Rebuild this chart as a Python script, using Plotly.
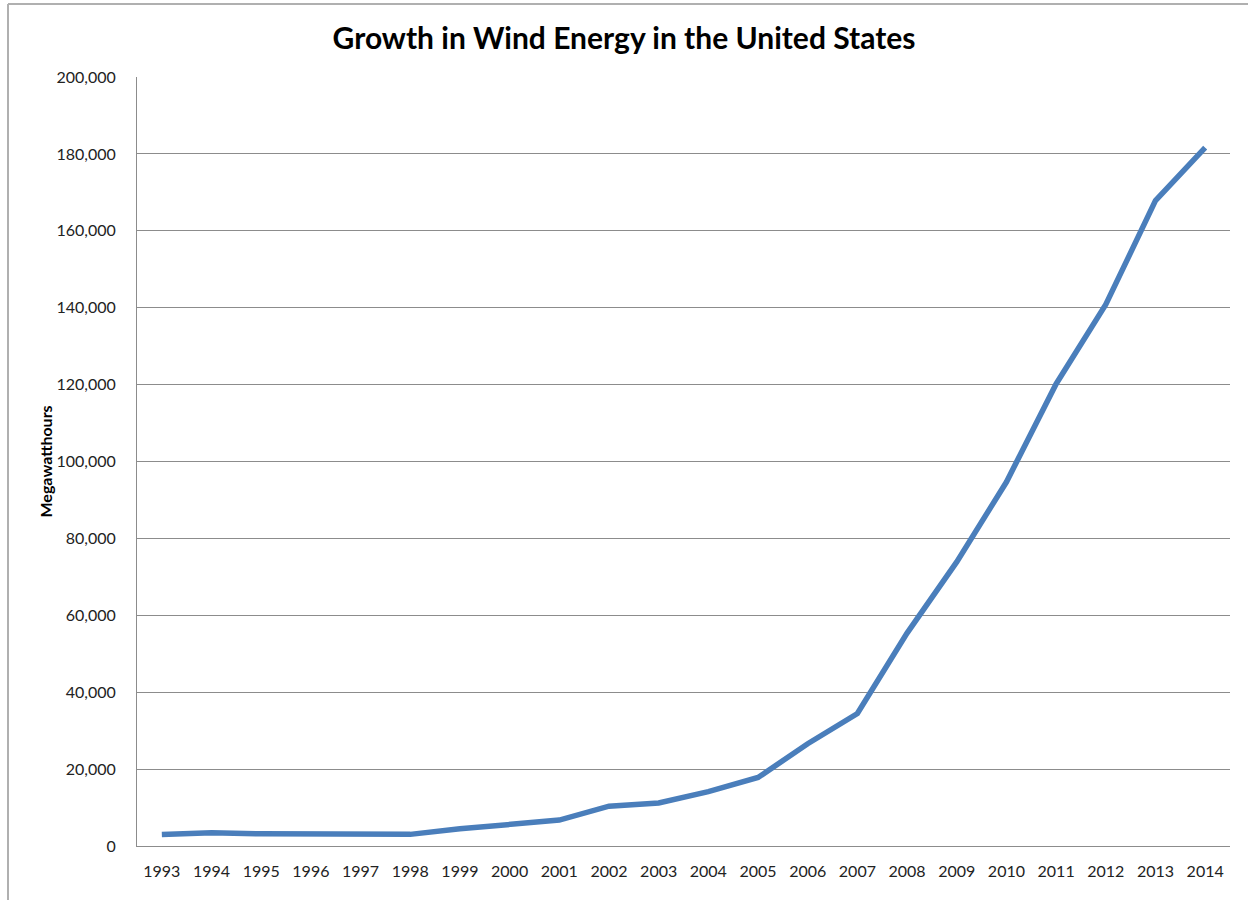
import plotly.graph_objects as go

# Annual US wind generation, thousand megawatthours
years = [str(y) for y in range(1993, 2015)]
generation = [3006, 3447, 3164, 3234, 3288, 3026, 4488, 5593, 6737, 10354,
              11187, 14144, 17811, 26589, 34450, 55363, 73886, 94652,
              120177, 140822, 167840, 181655]
y_ticks = list(range(0, 200001, 20000))
y_tick_text = [f"{v:,}" for v in y_ticks]

W, H = 1248, 900
L, R, T, B = 137, 18, 77, 54
pw, ph = W - L - R, H - T - B

fig = go.Figure()
fig.add_trace(go.Scatter(
    x=years, y=generation, mode="lines",
    line=dict(color="#4a7ebb", width=5.5),
    hoverinfo="x+y", showlegend=False,
))

font_family = "Lato, 'Open Sans', sans-serif"

fig.update_layout(
    width=W, height=H,
    margin=dict(l=L, r=R, t=T, b=B),
    paper_bgcolor="white", plot_bgcolor="white",
    font=dict(family=font_family, color="#222222"),
    title=dict(
        text="<b>Growth in Wind Energy in the United States</b>",
        x=0.5, xanchor="center", y=1 - 38 / H, yanchor="middle",
        font=dict(size=30, color="#000000", family=font_family),
    ),
    xaxis=dict(
        type="category", range=[-0.5, len(years) - 0.5],
        showgrid=False, showline=True, linecolor="#8c8c8c", linewidth=1,
        ticks="", tickfont=dict(size=16), ticklabelstandoff=11,
        zeroline=False, fixedrange=True,
    ),
    yaxis=dict(
        range=[0, 200000], tickvals=y_ticks, ticktext=y_tick_text,
        showgrid=True, gridcolor="#8c8c8c", gridwidth=1,
        showline=True, linecolor="#8c8c8c", linewidth=1,
        ticks="", tickfont=dict(size=16), ticklabelstandoff=17,
        zeroline=False, fixedrange=True,
    ),
    annotations=[dict(
        text="<b>Megawatthours</b>", textangle=-90,
        xref="paper", yref="paper",
        x=(45 - L) / pw, y=0.5, xanchor="center", yanchor="middle",
        showarrow=False, font=dict(size=16, color="#000000"),
    )],
    shapes=[
        # chart frame: top and left edges
        dict(type="line", xref="paper", yref="paper",
             x0=(8 - L) / pw, x1=(W + 5 - L) / pw,
             y0=1 + (T - 4) / ph, y1=1 + (T - 4) / ph,
             line=dict(color="#b0b0b0", width=2)),
        dict(type="line", xref="paper", yref="paper",
             x0=(8 - L) / pw, x1=(8 - L) / pw,
             y0=1 + (T - 4) / ph, y1=-(B + 5) / ph,
             line=dict(color="#b0b0b0", width=2)),
    ],
)

fig.write_html("out.html")
